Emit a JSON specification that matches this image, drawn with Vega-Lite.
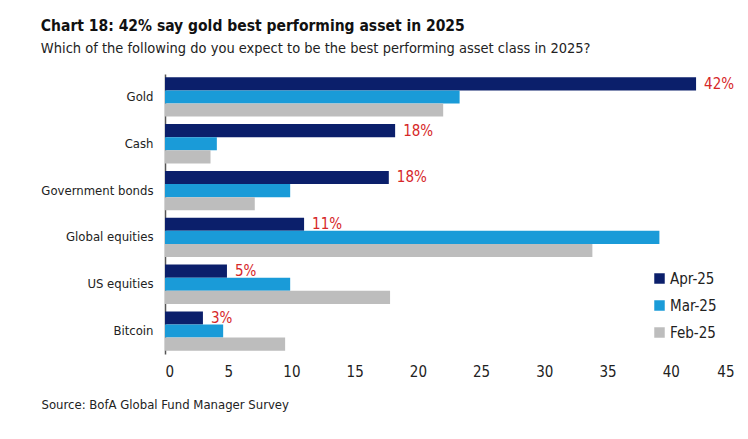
{
  "$schema": "https://vega.github.io/schema/vega-lite/v6.json",
  "width": 748,
  "height": 439,
  "autosize": {"type": "fit", "contains": "padding"},
  "padding": {"left": 40, "right": 14, "top": 19, "bottom": 28},
  "background": "white",
  "config": {
    "font": "DejaVu Sans Condensed, Roboto, sans-serif",
    "view": {"stroke": null}
  },
  "title": {
    "text": "Chart 18: 42% say gold best performing asset in 2025",
    "subtitle": "Which of the following do you expect to be the best performing asset class in 2025?",
    "anchor": "start",
    "frame": "bounds",
    "fontSize": 15.5,
    "fontWeight": "bold",
    "color": "#111111",
    "subtitleFontSize": 14.5,
    "subtitleColor": "#222222",
    "subtitlePadding": 7,
    "offset": 19
  },
  "data": {
    "values": [
      {"asset": "Gold", "month": "Apr-25", "value": 42.0, "label": "42%"},
      {"asset": "Gold", "month": "Mar-25", "value": 23.3, "label": ""},
      {"asset": "Gold", "month": "Feb-25", "value": 22.0, "label": ""},
      {"asset": "Cash", "month": "Apr-25", "value": 18.2, "label": "18%"},
      {"asset": "Cash", "month": "Mar-25", "value": 4.1, "label": ""},
      {"asset": "Cash", "month": "Feb-25", "value": 3.6, "label": ""},
      {"asset": "Government bonds", "month": "Apr-25", "value": 17.7, "label": "18%"},
      {"asset": "Government bonds", "month": "Mar-25", "value": 9.9, "label": ""},
      {"asset": "Government bonds", "month": "Feb-25", "value": 7.1, "label": ""},
      {"asset": "Global equities", "month": "Apr-25", "value": 11.0, "label": "11%"},
      {"asset": "Global equities", "month": "Mar-25", "value": 39.1, "label": ""},
      {"asset": "Global equities", "month": "Feb-25", "value": 33.8, "label": ""},
      {"asset": "US equities", "month": "Apr-25", "value": 4.9, "label": "5%"},
      {"asset": "US equities", "month": "Mar-25", "value": 9.9, "label": ""},
      {"asset": "US equities", "month": "Feb-25", "value": 17.8, "label": ""},
      {"asset": "Bitcoin", "month": "Apr-25", "value": 3.0, "label": "3%"},
      {"asset": "Bitcoin", "month": "Mar-25", "value": 4.6, "label": ""},
      {"asset": "Bitcoin", "month": "Feb-25", "value": 9.5, "label": ""}
    ]
  },
  "encoding": {
    "y": {
      "field": "asset",
      "type": "nominal",
      "sort": ["Gold", "Cash", "Government bonds", "Global equities", "US equities", "Bitcoin"],
      "scale": {"paddingInner": 0.16, "paddingOuter": 0.07},
      "axis": {
        "title": null,
        "ticks": false,
        "domainColor": "#555555",
        "domainWidth": 1.5,
        "labelFontSize": 13,
        "labelColor": "#222222",
        "labelPadding": 12
      }
    },
    "yOffset": {
      "field": "month",
      "type": "nominal",
      "sort": ["Apr-25", "Mar-25", "Feb-25"]
    },
    "x": {
      "field": "value",
      "type": "quantitative",
      "scale": {"domain": [0, 45], "nice": false},
      "axis": {
        "values": [0, 5, 10, 15, 20, 25, 30, 35, 40, 45],
        "grid": false,
        "domain": false,
        "ticks": false,
        "labelFontSize": 15,
        "labelColor": "#222222",
        "labelPadding": 10,
        "title": "Source: BofA Global Fund Manager Survey",
        "titleAnchor": "start",
        "titleAlign": "left",
        "titleX": -124,
        "titleFontSize": 13,
        "titleFontWeight": "normal",
        "titleColor": "#222222",
        "titlePadding": 19
      }
    }
  },
  "layer": [
    {
      "mark": {"type": "bar"},
      "encoding": {
        "color": {
          "field": "month",
          "type": "nominal",
          "sort": ["Apr-25", "Mar-25", "Feb-25"],
          "scale": {"domain": ["Apr-25", "Mar-25", "Feb-25"], "range": ["#0b1f6b", "#1a9bd8", "#bdbdbd"]},
          "legend": {
            "title": null,
            "orient": "none",
            "legendX": 487,
            "legendY": 197,
            "symbolType": "square",
            "symbolSize": 110,
            "symbolStrokeWidth": 0,
            "labelFontSize": 15,
            "labelColor": "#222222",
            "rowPadding": 11,
            "labelOffset": 3
          }
        }
      }
    },
    {
      "mark": {"type": "text", "align": "left", "dx": 8, "fontSize": 15, "color": "#d62728"},
      "encoding": {
        "text": {"field": "label"}
      }
    }
  ]
}
